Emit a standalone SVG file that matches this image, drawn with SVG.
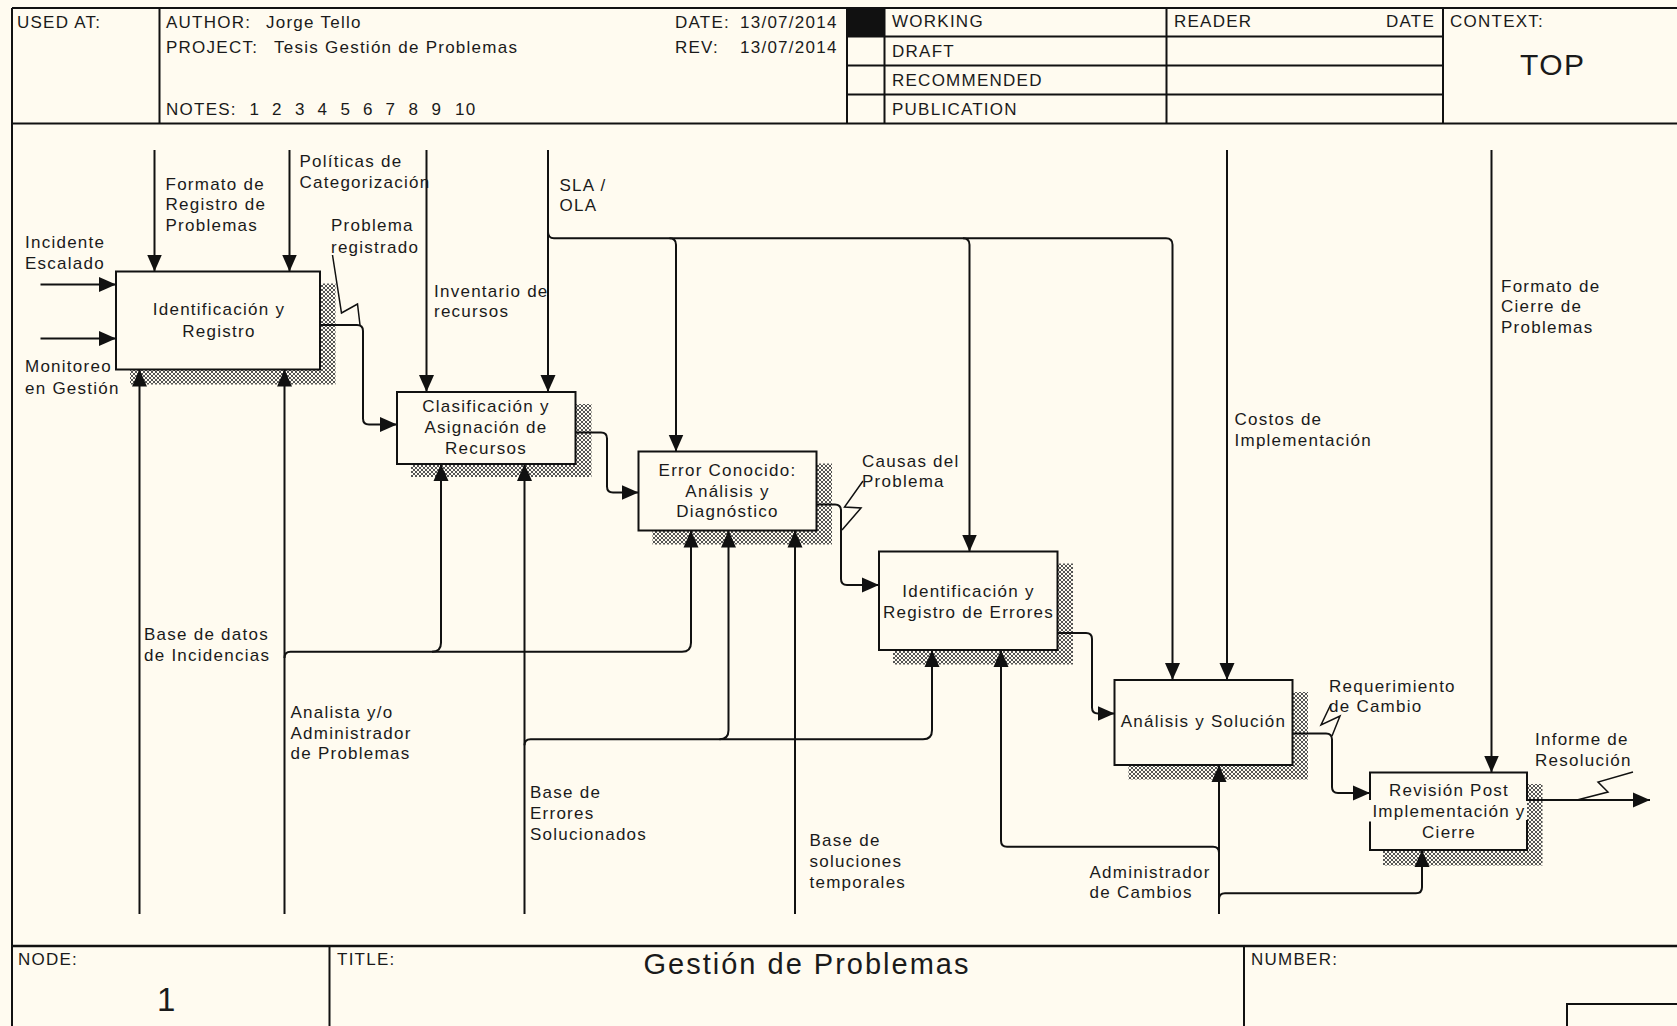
<svg xmlns="http://www.w3.org/2000/svg" width="1677" height="1026" viewBox="0 0 1677 1026">
<style>
.t{font-family:"Liberation Sans",Arial,sans-serif;font-size:17px;letter-spacing:1.25px;fill:#1a1a1a}
.m{text-anchor:middle}
.e{text-anchor:end}
.fr{stroke:#111;stroke-width:2;fill:none}
.box{fill:#FFFBF0;stroke:#111;stroke-width:2}
.sh{fill:url(#hatch)}
.ln{stroke:#111;stroke-width:2;fill:none}
.arr{marker-end:url(#ah)}
.sq{stroke:#111;stroke-width:1.5;fill:none}
</style>
<defs>
<pattern id="hatch" width="4" height="4" patternUnits="userSpaceOnUse">
<rect width="4" height="4" fill="#FFFBF0"/>
<path d="M0 0h1v1H0zM1 1h1v1H1zM2 2h1v1H2zM3 3h1v1H3zM3 0h1v1H3zM2 1h1v1H2zM1 2h1v1H1zM0 3h1v1H0z" fill="#555"/>
</pattern>
<marker id="ah" markerUnits="userSpaceOnUse" markerWidth="18" markerHeight="16" viewBox="0 0 18 16" refX="17" refY="8" orient="auto">
<path d="M0 0.5L17 8L0 15.5z" fill="#111"/>
</marker>
</defs>
<rect width="1677" height="1026" fill="#FFFBF0"/>

<g id="frame">
<path class="fr" d="M12 8H1677M12 8V1026M12 123.5H1677M159.5 8V123.5M847 8V123.5M884.5 8V123.5M1166.5 8V123.5M1443 8V123.5M847 36.5H1443M847 65.5H1443M847 94.5H1443M329.5 946V1026M1244 946V1026M1567 1026V1004H1677"/>
<path d="M12 946H1677" stroke="#111" stroke-width="2.5"/>
<rect x="847" y="8" width="37.5" height="28.5" fill="#111"/>
<text class="t" x="17" y="28">USED AT:</text>
<text class="t" x="166" y="28">AUTHOR:<tspan x="266">Jorge Tello</tspan></text>
<text class="t" x="166" y="53">PROJECT:<tspan x="274">Tesis Gestión de Problemas</tspan></text>
<text class="t" x="166" y="114.5">NOTES:<tspan x="249.5">1</tspan><tspan x="272">2</tspan><tspan x="295">3</tspan><tspan x="317.5">4</tspan><tspan x="340.5">5</tspan><tspan x="363">6</tspan><tspan x="385.5">7</tspan><tspan x="408.5">8</tspan><tspan x="431.5">9</tspan><tspan x="455">10</tspan></text>
<text class="t" x="675" y="28">DATE:</text>
<text class="t" x="740" y="28">13/07/2014</text>
<text class="t" x="675" y="53">REV:</text>
<text class="t" x="740" y="53">13/07/2014</text>
<text class="t" x="892" y="27">WORKING</text>
<text class="t" x="892" y="56.5">DRAFT</text>
<text class="t" x="892" y="85.5">RECOMMENDED</text>
<text class="t" x="892" y="115">PUBLICATION</text>
<text class="t" x="1174" y="27">READER</text>
<text class="t e" x="1435" y="27">DATE</text>
<text class="t" x="1450" y="27">CONTEXT:</text>
<text class="t" x="1520" y="75" style="font-size:30px;letter-spacing:1.5px">TOP</text>
<text class="t" x="18" y="965">NODE:</text>
<text class="t" x="337" y="965">TITLE:</text>
<text class="t" x="1251" y="965">NUMBER:</text>
<text class="t" x="157" y="1011" style="font-size:33px;letter-spacing:0">1</text>
<text class="t m" x="807" y="974" style="font-size:29px;letter-spacing:2px">Gestión de Problemas</text>
</g>

<g id="node1">
<rect class="sh" x="130" y="283.5" width="205.5" height="101"/>
<rect class="box" x="116" y="271.5" width="204" height="98"/>
<text class="t m" x="219" y="315">Identificación y</text>
<text class="t m" x="219" y="336.5">Registro</text>
</g>
<g id="node2">
<rect class="sh" x="411" y="404" width="180.5" height="73"/>
<rect class="box" x="397" y="392" width="178.5" height="72"/>
<text class="t m" x="486" y="411.5">Clasificación y</text>
<text class="t m" x="486" y="433">Asignación de</text>
<text class="t m" x="486" y="454">Recursos</text>
</g>
<g id="node3">
<rect class="sh" x="652.5" y="463.5" width="179.5" height="81"/>
<rect class="box" x="638.5" y="451.5" width="178" height="79"/>
<text class="t m" x="727.5" y="475.5">Error Conocido:</text>
<text class="t m" x="727.5" y="496.5">Análisis y</text>
<text class="t m" x="727.5" y="516.5">Diagnóstico</text>
</g>
<g id="node4">
<rect class="sh" x="893" y="563.5" width="180" height="101"/>
<rect class="box" x="879" y="551.5" width="178.5" height="98.5"/>
<text class="t m" x="968.5" y="596.5">Identificación y</text>
<text class="t m" x="968.5" y="618">Registro de Errores</text>
</g>
<g id="node5">
<rect class="sh" x="1128.5" y="692" width="179.5" height="87.5"/>
<rect class="box" x="1114.5" y="680" width="178" height="85"/>
<text class="t m" x="1203.5" y="727">Análisis y Solución</text>
</g>
<g id="node6">
<rect class="sh" x="1383" y="784" width="159.5" height="81.5"/>
<rect x="1370" y="772.5" width="157" height="77.5" fill="#FFFBF0"/>
<path class="fr" d="M1370 800V772.5H1527V801M1527 820V850H1370V821.5"/>
<text class="t m" x="1449" y="796">Revisión Post</text>
<text class="t m" x="1449" y="817">Implementación y</text>
<text class="t m" x="1449" y="838">Cierre</text>
</g>

<g id="connectors">
<path class="ln arr" d="M40.5 284.5H116"/>
<path class="ln arr" d="M40.5 338.5H116"/>
<path class="ln arr" d="M154.5 150V271.5"/>
<path class="ln arr" d="M289.5 150V271.5"/>
<path class="ln arr" d="M320 325H357Q363 325 363 331V418.5Q363 424.5 369 424.5H397"/>
<path class="sq" d="M332.5 255L341.5 313L357.5 304L360 325"/>
<path class="ln arr" d="M426.5 150V392"/>
<path class="ln arr" d="M548 150V392"/>
<path class="ln arr" d="M548 232Q548 238.3 554 238.3H1166Q1172.5 238.3 1172.5 244.8V680"/>
<path class="ln arr" d="M669.5 238.3Q676 238.3 676 244.8V451.5"/>
<path class="ln arr" d="M963 238.3Q969.5 238.3 969.5 244.8V551.5"/>
<path class="ln arr" d="M1227 150V680"/>
<path class="ln arr" d="M1491.5 150V772.5"/>
<path class="ln arr" d="M139.5 914V369.5"/>
<path class="ln arr" d="M284.5 914V369.5"/>
<path class="ln arr" d="M284.5 658Q284.5 651.7 290.5 651.7H682Q691 651.7 691 642.7V530.5"/>
<path class="ln arr" d="M432 651.7Q441 651.7 441 642.7V464"/>
<path class="ln arr" d="M524.5 914V464"/>
<path class="ln arr" d="M524.5 745.3Q524.5 739.3 530.5 739.3H923Q932 739.3 932 730.3V650"/>
<path class="ln arr" d="M719.5 739.3Q728.5 739.3 728.5 730.3V530.5"/>
<path class="ln arr" d="M795 914V530.5"/>
<path class="ln arr" d="M1219 914V765"/>
<path class="ln arr" d="M1219 852.7Q1219 846.7 1213 846.7H1007Q1001 846.7 1001 840.7V650"/>
<path class="ln arr" d="M1219 899.3Q1219 893.3 1225 893.3H1416Q1422 893.3 1422 887.3V850"/>
<path class="ln arr" d="M575.5 432.5H601Q607 432.5 607 438.5V486.5Q607 492.5 613 492.5H638.5"/>
<path class="ln arr" d="M816.5 504.5H835Q841 504.5 841 510.5V579Q841 585 847 585H879"/>
<path class="sq" d="M863 481L844.5 507L861 508L842 530"/>
<path class="ln arr" d="M1057.5 633H1086Q1092 633 1092 639V707.5Q1092 713.5 1098 713.5H1114.5"/>
<path class="ln arr" d="M1292.5 733.5H1326Q1332 733.5 1332 739.5V787Q1332 793 1338 793H1370"/>
<path class="sq" d="M1331 704L1321 725L1340 716L1332 736"/>
<path class="ln arr" d="M1527 800H1650"/>
<path class="sq" d="M1633 772L1598 782L1608 792L1577 800"/>
</g>

<g id="labels">
<text class="t" x="25" y="248">Incidente</text>
<text class="t" x="25" y="268.5">Escalado</text>
<text class="t" x="25" y="372">Monitoreo</text>
<text class="t" x="25" y="393.5">en Gestión</text>
<text class="t" x="165.5" y="189.5">Formato de</text>
<text class="t" x="165.5" y="210">Registro de</text>
<text class="t" x="165.5" y="231">Problemas</text>
<text class="t" x="299.5" y="167">Políticas de</text>
<text class="t" x="299.5" y="188">Categorización</text>
<text class="t" x="331" y="231">Problema</text>
<text class="t" x="331" y="252.5">registrado</text>
<text class="t" x="434" y="296.5">Inventario de</text>
<text class="t" x="434" y="317">recursos</text>
<text class="t" x="559.5" y="191">SLA /</text>
<text class="t" x="559.5" y="211">OLA</text>
<text class="t" x="1234.5" y="425">Costos de</text>
<text class="t" x="1234.5" y="445.5">Implementación</text>
<text class="t" x="1501" y="291.5">Formato de</text>
<text class="t" x="1501" y="312">Cierre de</text>
<text class="t" x="1501" y="332.5">Problemas</text>
<text class="t" x="862" y="466.5">Causas del</text>
<text class="t" x="862" y="487">Problema</text>
<text class="t" x="144" y="640">Base de datos</text>
<text class="t" x="144" y="660.5">de Incidencias</text>
<text class="t" x="290.5" y="717.5">Analista y/o</text>
<text class="t" x="290.5" y="738.5">Administrador</text>
<text class="t" x="290.5" y="759">de Problemas</text>
<text class="t" x="530" y="797.5">Base de</text>
<text class="t" x="530" y="819">Errores</text>
<text class="t" x="530" y="840">Solucionados</text>
<text class="t" x="809.5" y="845.5">Base de</text>
<text class="t" x="809.5" y="867">soluciones</text>
<text class="t" x="809.5" y="888">temporales</text>
<text class="t" x="1089.5" y="877.5">Administrador</text>
<text class="t" x="1089.5" y="897.5">de Cambios</text>
<text class="t" x="1329" y="691.5">Requerimiento</text>
<text class="t" x="1329" y="712">de Cambio</text>
<text class="t" x="1535" y="745">Informe de</text>
<text class="t" x="1535" y="766">Resolución</text>
</g>
</svg>
